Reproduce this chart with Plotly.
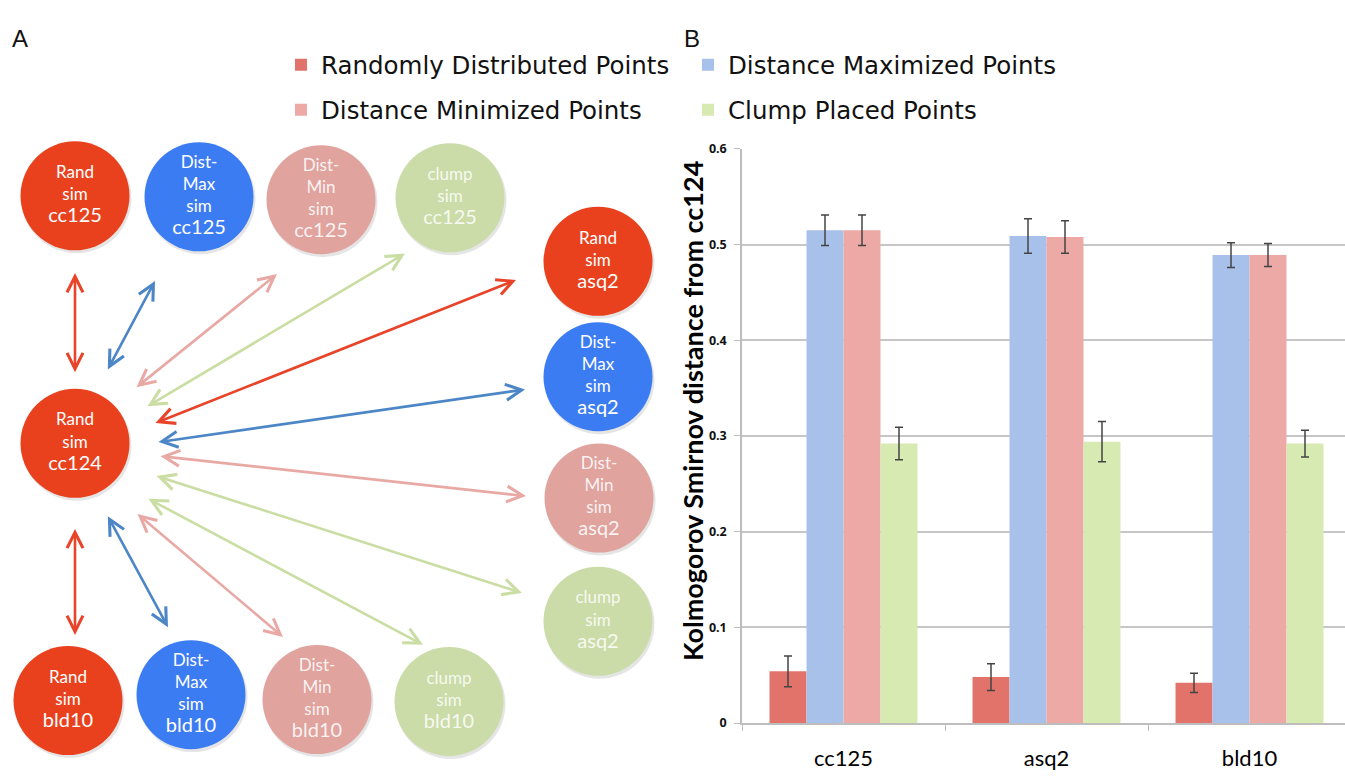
import plotly.graph_objects as go

# ---------------- Panel B data ----------------
categories = ["cc125", "asq2", "bld10"]
series_names = ["Randomly Distributed Points", "Distance Maximized Points",
                "Distance Minimized Points", "Clump Placed Points"]
rand_vals = [0.054, 0.048, 0.042]
rand_err = [0.016, 0.014, 0.010]
max_vals = [0.515, 0.509, 0.489]
max_err = [0.016, 0.018, 0.013]
min_vals = [0.515, 0.508, 0.489]
min_err = [0.016, 0.017, 0.012]
clump_vals = [0.292, 0.294, 0.292]
clump_err = [0.017, 0.021, 0.014]
y_ticks = [0, 0.1, 0.2, 0.3, 0.4, 0.5, 0.6]

# ---------------- Panel A diagram data ----------------
node_kind = ["Rand", "Dist-Max", "Dist-Min", "clump",
             "Rand",
             "Rand", "Dist-Max", "Dist-Min", "clump",
             "Rand", "Dist-Max", "Dist-Min", "clump"]
node_set = ["cc125", "cc125", "cc125", "cc125",
            "cc124",
            "asq2", "asq2", "asq2", "asq2",
            "bld10", "bld10", "bld10", "bld10"]
# diagram layout (pixel-like coordinates of the panel A drawing space)
node_x = [75, 199, 321, 450, 75, 598, 598, 599, 598, 68, 191, 317, 449]
node_y = [191, 192, 195, 193, 444, 258, 376, 500, 626, 707, 701, 706, 708]
arrow_kind = ["Rand", "Dist-Max", "Dist-Min", "clump",
              "Rand", "Dist-Max", "Dist-Min", "clump",
              "clump", "Dist-Min", "Dist-Max", "Rand"]
arrow_x0 = [75, 107, 135, 146, 154, 157, 159, 155, 147, 136, 107, 75]
arrow_y0 = [373, 370, 388, 407, 424, 443, 457, 477, 500, 515, 517, 530]
arrow_x1 = [75, 155, 277, 405, 516, 525, 526, 522, 423, 283, 168, 75]
arrow_y1 = [270, 278, 271, 250, 277, 389, 498, 597, 650, 642, 632, 640]

node_fill = {"Rand": "#E9411D", "Dist-Max": "#3B7CF3",
             "Dist-Min": "#E0A39E", "clump": "#CBDCA8"}
node_text_col = {"Rand": "#FFFFFF", "Dist-Max": "#FFFFFF",
                 "Dist-Min": "rgba(255,255,255,0.88)", "clump": "rgba(255,255,255,0.85)"}
arrow_col = {"Rand": "#E8442A", "Dist-Max": "#4C86C6",
             "Dist-Min": "#E8A9A5", "clump": "#CADDA3"}

bar_cols = ["#E1736B", "#A8C1EB", "#EDA9A5", "#D7EAB2"]

fig = go.Figure()

# ---------------- bars ----------------
vals = [rand_vals, max_vals, min_vals, clump_vals]
errs = [rand_err, max_err, min_err, clump_err]
legend_ids = ["legend", "legend2", "legend3", "legend4"]
for name, v, e, c, lg in zip(series_names, vals, errs, bar_cols, legend_ids):
    fig.add_trace(go.Bar(
        x=categories, y=v, name=name, marker=dict(color=c, line=dict(width=0)),
        error_y=dict(type="data", array=e, visible=True, color="#444444",
                     thickness=1.5, width=4),
        xaxis="x", yaxis="y", legend=lg,
    ))

# ---------------- diagram nodes ----------------
def node_label(kind, s):
    if kind.startswith("Dist-"):
        head = "Dist-<br>" + kind.split("-")[1]
    else:
        head = kind
    return head + "<br>sim<br><span style='font-size:20px'>" + s + "</span>"

fig.add_trace(go.Scatter(
    x=[x + 1.5 for x in node_x], y=[y + 2.5 for y in node_y], mode="markers",
    marker=dict(size=110, color="rgba(0,0,0,0.10)", line=dict(width=0)),
    xaxis="x2", yaxis="y2", showlegend=False, hoverinfo="skip", cliponaxis=False,
))
fig.add_trace(go.Scatter(
    x=node_x, y=node_y, mode="markers+text",
    marker=dict(size=109, color=[node_fill[k] for k in node_kind], line=dict(width=0)),
    text=[node_label(k, s) for k, s in zip(node_kind, node_set)],
    textposition="middle center",
    textfont=dict(family="Lato", size=17, color=[node_text_col[k] for k in node_kind]),
    xaxis="x2", yaxis="y2", showlegend=False, hoverinfo="skip", cliponaxis=False,
))

annotations = []
for k, x0, y0, x1, y1 in zip(arrow_kind, arrow_x0, arrow_y0, arrow_x1, arrow_y1):
    annotations.append(dict(
        x=x1, y=y1, ax=x0, ay=y0, xref="x2", yref="y2", axref="x2", ayref="y2",
        text="", showarrow=True, arrowside="end+start",
        arrowhead=5, startarrowhead=5, arrowsize=1.2, startarrowsize=1.2,
        arrowwidth=2.6, arrowcolor=arrow_col[k], standoff=0, startstandoff=0,
    ))

W, H = 1345, 777
annotations += [
    dict(text="A", x=20 / W, y=1 - 30 / H, xref="paper", yref="paper",
         showarrow=False, font=dict(family="Liberation Sans", size=24, color="#111"),
         xanchor="center", yanchor="middle"),
    dict(text="B", x=692 / W, y=1 - 30 / H, xref="paper", yref="paper",
         showarrow=False, font=dict(family="Liberation Sans", size=24, color="#111"),
         xanchor="center", yanchor="middle"),
    dict(text="Kolmogorov Smirnov distance from cc124", x=692 / W, y=1 - 411 / H,
         xref="paper", yref="paper", showarrow=False, textangle=-90,
         font=dict(family="Lato", size=27, color="#000", weight="bold"),
         xanchor="center", yanchor="middle"),
]

x_left, x_right = 742, 1345
cat_w = 203.0
y0_px, y6_px = 730, 143

leg_font = dict(family="DejaVu Sans", size=24.5, color="#111")
def leg(xpx, ypx):
    return dict(x=xpx / W, y=1 - ypx / H, xanchor="left", yanchor="middle",
                font=leg_font, bgcolor="rgba(0,0,0,0)", borderwidth=0,
                orientation="v")

fig.update_layout(
    width=W, height=H, autosize=False,
    margin=dict(l=0, r=0, t=0, b=0, pad=0),
    paper_bgcolor="white", plot_bgcolor="rgba(0,0,0,0)",
    barmode="group", bargap=0.271, bargroupgap=0,
    showlegend=True,
    legend=leg(281, 57), legend2=leg(688, 57),
    legend3=leg(281, 103), legend4=leg(688, 103),
    xaxis=dict(domain=[x_left / W, 1], type="category",
               range=[-0.5, -0.5 + (x_right - x_left) / cat_w],
               showline=True, linecolor="#BDBDBD", linewidth=1.5,
               ticks="outside", tickson="boundaries", ticklen=6, tickcolor="#BDBDBD",
               showgrid=False, ticklabelstandoff=15,
               tickfont=dict(family="Lato", size=22, color="#000")),
    yaxis=dict(domain=[(H - y0_px) / H, (H - y6_px) / H], range=[0, 0.6],
               tickvals=y_ticks, showgrid=True, gridcolor="#C6C6C6", gridwidth=1.5,
               showline=True, linecolor="#BDBDBD", linewidth=1.5,
               ticks="outside", ticklen=6, tickcolor="#BDBDBD", zeroline=False,
               ticklabelstandoff=5,
               tickfont=dict(family="Open Sans", size=12.5, color="#111", weight="bold")),
    xaxis2=dict(domain=[0, 0.5], range=[0, W * 0.5], visible=False, fixedrange=True),
    yaxis2=dict(domain=[0, 1], range=[H, 0], visible=False, fixedrange=True,
                anchor="x2"),
    annotations=annotations,
)

fig.write_html("out.html")
